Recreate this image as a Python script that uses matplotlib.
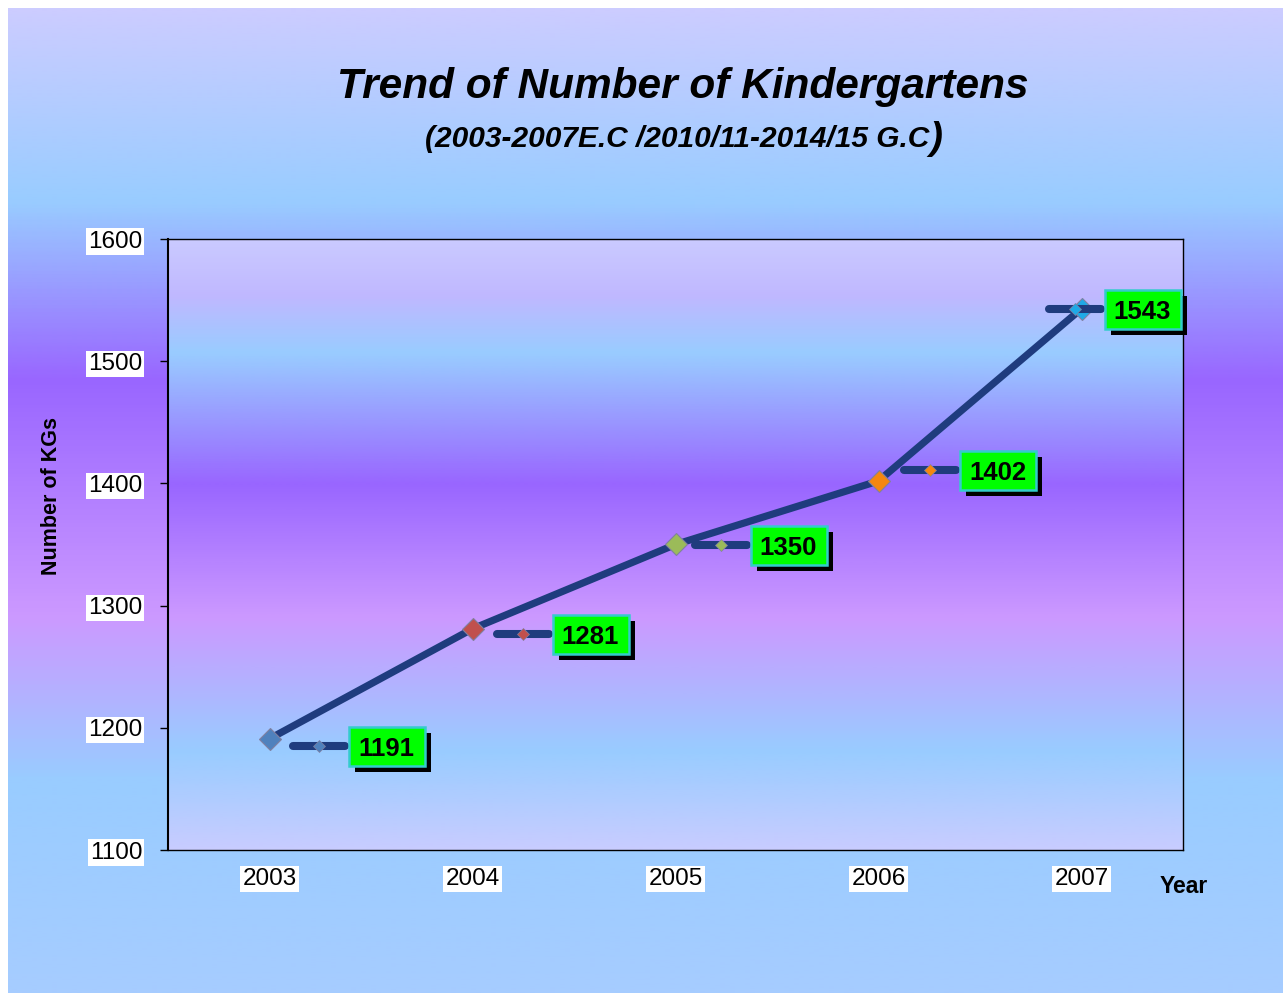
import matplotlib
matplotlib.use('Agg')
import matplotlib.pyplot as plt
import numpy as np
from matplotlib.colors import LinearSegmentedColormap
from matplotlib.patches import Rectangle
from matplotlib.lines import Line2D
from matplotlib.transforms import IdentityTransform

# ---------------- data ----------------
years = ['2003', '2004', '2005', '2006', '2007']
kgs = [1191, 1281, 1350, 1402, 1543]
marker_colors = ['#4F81BD', '#C0504D', '#9BBB59', '#F5870F', '#1FA9E6']
y_ticks = [1100, 1200, 1300, 1400, 1500, 1600]
# label box centre offsets from the data point, in pixels (right, down)
label_dx = [117, 118, 113, 119, 61]
label_dy = [8, 6, 1, -10, 1]

plt.rcParams['font.family'] = ['Liberation Sans', 'DejaVu Sans']

W, H = 1283, 996
DPI = 100
fig = plt.figure(figsize=(W / DPI, H / DPI), dpi=DPI)
fig.patch.set_facecolor('white')
ID = IdentityTransform()

def P(x, y):
    return x, H - y

# ---------------- outer gradient ----------------
bg = fig.add_axes([0, 0, 1, 1], zorder=0)
outer = LinearSegmentedColormap.from_list('outer', [
    (0.0, '#CCCCFF'), (0.195, '#99CCFF'), (0.377, '#9966FF'),
    (0.618, '#CC99FF'), (0.784, '#99CCFF'), (1.0, '#A6CCFF')])
grad = np.linspace(0, 1, 600).reshape(-1, 1)
bg.imshow(grad, cmap=outer, extent=(8, W, 993, 8), aspect='auto',
          interpolation='bilinear')
bg.set_xlim(0, W)
bg.set_ylim(H, 0)
bg.axis('off')

# ---------------- plot area ----------------
L, R, T, B = 168, 1183, 239, 850
pos = [L / W, (H - B) / H, (R - L) / W, (B - T) / H]
pa = fig.add_axes(pos, zorder=1)
inner = LinearSegmentedColormap.from_list('inner', [
    (0.0, '#CACAFF'), (0.09, '#C0B8FF'), (0.185, '#99CCFF'),
    (0.40, '#9966FF'), (0.62, '#CC99FF'), (0.84, '#99CCFF'),
    (1.0, '#C8CCFF')])
pa.imshow(grad, cmap=inner, extent=(0, 1, 0, 1), aspect='auto',
          interpolation='bilinear')
pa.set_xlim(0, 1)
pa.set_ylim(0, 1)
pa.axis('off')

ax = fig.add_axes(pos, zorder=2)
ax.patch.set_alpha(0)
x = np.arange(len(years))
navy = '#1F3C7E'
ax.plot(x, kgs, color=navy, lw=5.2, solid_capstyle='round', zorder=3)
for i in range(len(x)):
    ax.plot(x[i], kgs[i], marker='D', ms=11.5, mfc=marker_colors[i],
            mec='#8080A0', mew=0.8, zorder=4, ls='none')
ax.set_xlim(-0.5, len(x) - 0.5)
ax.set_ylim(1100, 1600)
ax.set_xticks(x)
ax.set_xticklabels(years)
ax.set_yticks(y_ticks)
ax.tick_params(axis='x', length=0, pad=13, labelsize=17.5)
ax.tick_params(axis='y', length=6, width=1, direction='out', pad=12.5,
               labelsize=17.5, color='black')
for s in ax.spines.values():
    s.set_color('black')
    s.set_linewidth(1)
ax.spines['left'].set_linewidth(1.5)
for lbl in ax.get_xticklabels() + ax.get_yticklabels():
    lbl.set_bbox(dict(facecolor='white', edgecolor='none', pad=1.5))

# ---------------- data labels ----------------
bw, bh = 76, 39
for i in range(len(x)):
    px, py = ax.transData.transform((x[i], kgs[i]))
    cx = px + label_dx[i]
    cy = py - label_dy[i]
    left = cx - bw / 2
    # legend key
    fig.add_artist(Line2D([left - 56, left - 4], [cy + 1, cy + 1], color=navy,
                          lw=5.8, solid_capstyle='round', transform=ID,
                          zorder=5))
    fig.add_artist(Line2D([left - 30], [cy + 1], marker='D', ms=6.5,
                          mfc=marker_colors[i], mec='#8080A0', mew=0.5,
                          ls='none', transform=ID, zorder=5))
    # shadow and box
    fig.add_artist(Rectangle((left + 6, cy - bh / 2 - 6), bw, bh,
                             facecolor='black', edgecolor='none',
                             transform=ID, zorder=6))
    fig.add_artist(Rectangle((left, cy - bh / 2), bw, bh,
                             facecolor='#00FF00', edgecolor='#33CCCC', lw=1.8,
                             transform=ID, zorder=7))
    fig.text(cx, cy, str(kgs[i]), ha='center', va='center_baseline',
             fontsize=18.5, fontweight='bold', color='black', transform=ID,
             zorder=8)

# ---------------- titles ----------------
fig.text(*P(683, 98), 'Trend of Number of Kindergartens', ha='center',
         va='baseline', fontsize=30.5, fontweight='bold', fontstyle='italic',
         transform=ID)
fig.text(*P(929, 147), '(2003-2007E.C /2010/11-2014/15 G.C', ha='right',
         va='baseline', fontsize=21.5, fontweight='bold', fontstyle='italic',
         transform=ID)
fig.text(*P(929, 149), ')', ha='left', va='baseline', fontsize=28,
         fontweight='bold', fontstyle='italic', transform=ID)

fig.text(*P(52, 496), 'Number of KGs', rotation=90, ha='center', va='center',
         fontsize=15.5, fontweight='bold', transform=ID)
fig.text(*P(1184, 886), 'Year', ha='center', va='center', fontsize=16.5,
         fontweight='bold', transform=ID)

fig.savefig('out.png', dpi=DPI)
